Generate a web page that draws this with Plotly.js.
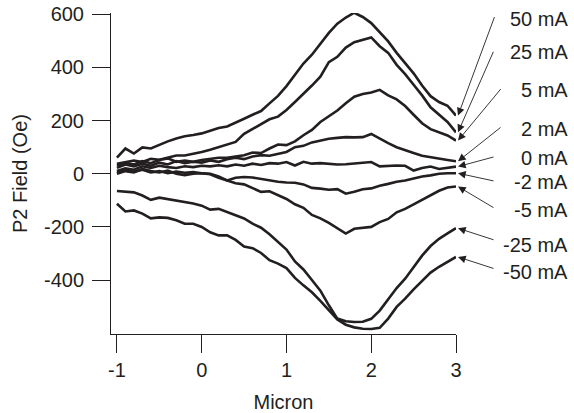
<!DOCTYPE html>
<html>
<head>
<meta charset="utf-8">
<script src="https://cdn.plot.ly/plotly-3.0.1.min.js"></script>
<style>html,body{margin:0;padding:0;background:#fff;}#chart{width:574px;height:413px;}</style>
</head>
<body>
<div id="chart"></div>
<script>
// Position along the bar (micron), shared by all series
const micron = [-1.0,-0.9,-0.8,-0.7,-0.6,-0.5,-0.4,-0.3,-0.2,-0.1,0.0,0.1,0.2,0.3,0.4,0.5,0.6,0.7,0.8,0.9,1.0,1.1,1.2,1.3,1.4,1.5,1.6,1.7,1.8,1.9,2.0,2.1,2.2,2.3,2.4,2.5,2.6,2.7,2.8,2.9,3.0];

// P2 field (Oe) for each drive current
const field_p50 = [61,95,76,99,95,110,122,133,141,146,152,162,172,178,194,207,222,236,265,293,330,372,415,448,488,530,565,588,606,590,567,531,498,455,418,378,332,292,270,256,219];
const field_p25 = [38,45,50,44,56,53,60,69,69,75,82,90,100,108,120,150,168,185,205,215,240,270,300,332,365,420,440,475,495,505,513,480,455,410,375,335,295,250,222,195,156];
const field_p5  = [30,42,35,48,40,52,58,45,50,45,52,55,60,60,65,70,80,78,95,110,108,122,145,165,195,215,238,265,290,300,306,316,295,280,255,222,190,168,156,144,125];
const field_p2  = [22,35,28,38,30,42,35,48,40,45,42,50,45,55,60,55,65,70,68,75,82,100,105,118,125,132,135,138,137,138,150,132,115,100,88,78,68,62,56,52,47];
const field_0   = [10,20,15,28,22,30,25,22,28,25,30,28,32,28,35,30,38,33,40,38,44,31,45,38,40,38,35,36,38,42,44,28,30,31,30,12,22,27,18,22,27];
const field_m2  = [5,12,8,15,5,10,2,8,4,6,2,0,-10,-25,-15,-12,-14,-20,-25,-30,-33,-34,-40,-53,-56,-60,-58,-75,-68,-58,-55,-45,-38,-30,-25,-18,-10,-6,0,2,2];
const field_m5  = [0,10,5,18,10,5,12,0,-5,0,2,-2,-15,-25,-36,-40,-55,-68,-66,-80,-95,-115,-128,-155,-168,-185,-205,-225,-207,-203,-200,-182,-170,-145,-132,-115,-97,-80,-64,-52,-48];
const field_m25 = [-65,-67,-70,-82,-98,-90,-95,-100,-106,-112,-120,-135,-132,-145,-155,-168,-188,-203,-228,-255,-285,-330,-360,-400,-440,-495,-545,-555,-558,-557,-546,-515,-472,-430,-395,-352,-308,-272,-245,-224,-205];
const field_m50 = [-113,-142,-138,-150,-168,-164,-166,-175,-188,-188,-200,-220,-232,-232,-249,-274,-280,-298,-325,-338,-355,-392,-420,-446,-478,-512,-548,-568,-578,-583,-584,-580,-545,-501,-470,-435,-405,-372,-350,-330,-313];

const seriesNames = ["50 mA","25 mA","5 mA","2 mA","0 mA","-2 mA","-5 mA","-25 mA","-50 mA"];
const seriesValues = [field_p50, field_p25, field_p5, field_p2, field_0, field_m2, field_m5, field_m25, field_m50];

const xTickVals = [-1,0,1,2,3];
const xTickText = ["-1","0","1","2","3"];
const yTickVals = [-400,-200,0,200,400,600];
const yTickText = ["-400","-200","0","200","400","600"];

// label placement (pixels): label centre y, arrow tail offset from the curve end
const labelY = [19,52,90,129,158,182,210,245,272];
const arrowDX = [37,36,44,44,37,37,37,37,37];
const arrowDY = [-100,-82,-53,-35,-10,8,22,12,12];

const INK = '#231f20';
const FONT = {family:'"Liberation Sans", Arial, sans-serif', size:20, color:INK};

const traces = seriesValues.map((vals, i) => ({
  x: micron, y: vals, type:'scatter', mode:'lines', name: seriesNames[i],
  line:{color:INK, width:2.6}, hoverinfo:'skip', cliponaxis:false
}));

const W = 574, H = 413, mL = 111, mR = 118, mT = 13, mB = 79;
const plotH = H - mT - mB, plotW = W - mL - mR;

const annotations = [];
seriesNames.forEach((nm, i) => {
  annotations.push({
    xref:'paper', yref:'paper', x:(570 - mL)/plotW, y:(H - mB - labelY[i])/plotH,
    xanchor:'right', yanchor:'middle', text:nm, showarrow:false, font:FONT
  });
  const v = seriesValues[i];
  annotations.push({
    xref:'x', yref:'y', x: micron[micron.length-1], y: v[v.length-1],
    xshift:2, text:'', showarrow:true, ax:arrowDX[i], ay:arrowDY[i],
    arrowhead:2, arrowsize:1.7, arrowwidth:0.9, arrowcolor:INK, standoff:0
  });
});

const layout = {
  width:W, height:H, margin:{l:mL, r:mR, t:mT, b:mB},
  paper_bgcolor:'#fff', plot_bgcolor:'#fff', showlegend:false, font:FONT,
  xaxis:{range:[-1.07,3.0], showgrid:false, zeroline:false, showline:true, linecolor:INK, linewidth:1,
    ticks:'outside', ticklen:18, tickwidth:1, tickcolor:INK, tickvals:xTickVals, ticktext:xTickText,
    ticklabelstandoff:0,
    tickfont:FONT, title:{text:'Micron', font:FONT, standoff:15}, automargin:false},
  yaxis:{range:[-603,605], showgrid:false, zeroline:false, showline:true, linecolor:INK, linewidth:1,
    ticks:'outside', ticklen:18, tickwidth:1, tickcolor:INK, tickvals:yTickVals, ticktext:yTickText,
    ticklabelstandoff:4,
    tickfont:FONT, title:{text:'P2 Field (Oe)', font:FONT, standoff:10}, automargin:false},
  annotations: annotations
};

Plotly.newPlot('chart', traces, layout, {staticPlot:true, displayModeBar:false});
</script>
</body>
</html>
